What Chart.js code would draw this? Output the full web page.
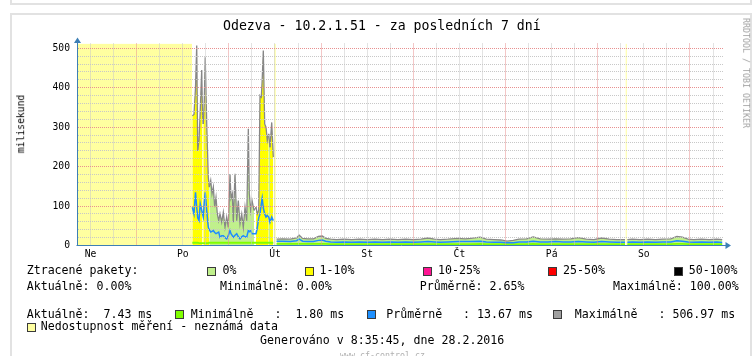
<!DOCTYPE html>
<html><head><meta charset="utf-8">
<script src="https://cdn.jsdelivr.net/npm/chart.js@4.4.1/dist/chart.umd.min.js"></script>
<style>
html,body{margin:0;padding:0;background:#fff;width:756px;height:356px;overflow:hidden;}
#wrap{position:relative;width:756px;height:356px;overflow:hidden;}
canvas{position:absolute;left:0;top:0;}
.t{position:absolute;font-family:'DejaVu Sans Mono',monospace;white-space:pre;color:#000;line-height:1;}
.lg{font-size:11.6px;}
.sw{position:absolute;width:7px;height:7px;border:1px solid #3a3a3a;}
.frame{position:absolute;border:2px solid #e2e2e2;}
</style></head><body><div id="wrap">
<div class="frame" style="left:10px;top:-10px;width:738px;height:11px;"></div>
<div class="frame" style="left:10px;top:13px;width:738px;height:400px;"></div>
<canvas id="c" width="756" height="356"></canvas>

<div class="t" style="left:223px;top:18.8px;font-size:13.2px;">Odezva - 10.2.1.51 - za posledních 7 dní</div>
<div class="t" style="left:21px;top:124px;font-size:9.7px;transform:translate(-50%,-50%) rotate(-90deg);">milisekund</div>
<div class="t" style="left:745.5px;top:73px;font-size:8.3px;color:#a0a0a0;transform:translate(-50%,-50%) rotate(90deg);">RRDTOOL / TOBI OETIKER</div>

<div class="t lg" style="left:26.7px;top:265.2px;">Ztracené pakety:</div>
<div class="sw" style="left:207px;top:267px;background:#c0f08c;"></div>
<div class="t lg" style="left:222.5px;top:265.2px;">0%</div>
<div class="sw" style="left:305px;top:267px;background:#ffff00;"></div>
<div class="t lg" style="left:319.5px;top:265.2px;">1-10%</div>
<div class="sw" style="left:423px;top:267px;background:#ff1493;"></div>
<div class="t lg" style="left:438px;top:265.2px;">10-25%</div>
<div class="sw" style="left:548px;top:267px;background:#ff0000;"></div>
<div class="t lg" style="left:563px;top:265.2px;">25-50%</div>
<div class="sw" style="left:674px;top:267px;background:#000000;"></div>
<div class="t lg" style="left:688.7px;top:265.2px;">50-100%</div>

<div class="t lg" style="left:26.7px;top:280.9px;">Aktuálně: 0.00%</div>
<div class="t lg" style="left:220px;top:280.9px;">Minimálně: 0.00%</div>
<div class="t lg" style="left:419.7px;top:280.9px;">Průměrně: 2.65%</div>
<div class="t lg" style="left:613px;top:280.9px;">Maximálně: 100.00%</div>

<div class="t lg" style="left:26.7px;top:308.5px;">Aktuálně:  7.43 ms</div>
<div class="sw" style="left:175px;top:310px;background:#80ff00;"></div>
<div class="t lg" style="left:190.7px;top:308.5px;">Minimálně   :  1.80 ms</div>
<div class="sw" style="left:366.7px;top:310px;background:#1e90ff;"></div>
<div class="t lg" style="left:386.3px;top:308.5px;">Průměrně   : 13.67 ms</div>
<div class="sw" style="left:553px;top:310px;background:#a0a0a0;"></div>
<div class="t lg" style="left:574.7px;top:308.5px;">Maximálně   : 506.97 ms</div>

<div class="sw" style="left:26.7px;top:323px;background:#ffffa0;"></div>
<div class="t lg" style="left:40.7px;top:321.2px;">Nedostupnost měření - neznámá data</div>
<div class="t lg" style="left:260px;top:335.2px;">Generováno v 8:35:45, dne 28.2.2016</div>
<div class="t" style="left:340px;top:351px;font-size:8.3px;color:#b0b0b0;">www.cf-control.cz</div>
</div>
<script>
// ---- axis definition (x = hours since Sun 21.2.2016 00:00) ----
const X_START = 8.6;
const X_END = 176.6;
const Y_MAX = 512;
const DAY_LABELS = ['Ne', 'Po', 'Út', 'St', 'Čt', 'Pá', 'So'];
const DAY_LABEL_HOURS = [12, 36, 60, 84, 108, 132, 156];

// ---- unknown-data spans (hours) ----
const UNKNOWN_SPANS = [[8.6, 38.42], [59.78, 60.22], [151.22, 151.58]];

// ---- burst period (Mon afternoon – Tue midnight) ----
const BURST_T = [38.48, 38.92, 39.31, 39.63, 39.89, 40.22, 40.54, 40.93, 41.14, 41.34,
  41.60, 41.84, 42.23, 42.64, 42.90, 43.27, 43.61, 43.95, 44.31, 44.65,
  44.99, 45.35, 45.69, 46.13, 46.55, 46.99, 47.43, 47.85, 48.29, 48.55,
  48.89, 49.15, 49.59, 50.04, 50.45, 50.90, 51.34, 51.75, 52.20, 52.64,
  53.06, 53.32, 53.68, 54.02, 54.54, 55.06, 55.40, 55.76, 56.10, 56.44,
  56.67, 56.96, 57.32, 57.66, 58.00, 58.37, 58.70, 59.15, 59.56];
const BURST_MAX = [329, 332, 400, 506.97, 240, 266, 340, 445, 330, 308,
  367, 477, 308, 173, 148, 165, 131, 148, 97, 122,
  80, 63, 80, 59, 84, 46, 72, 46, 181, 120,
  131, 59, 182, 63, 114, 55, 80, 46, 97, 63,
  296, 131, 89, 114, 89, 97, 80, 89, 380, 376,
  420, 494, 308, 300, 266, 283, 249, 312, 224];
const BURST_AVG = [97, 80, 135, 97, 70, 63, 106, 89, 80, 72,
  110, 135, 89, 46, 40, 34, 36, 38, 33, 30,
  32, 34, 21, 25, 25, 20, 17, 25, 38, 30,
  25, 21, 26, 30, 22, 17, 22, 25, 22, 21,
  38, 35, 38, 30, 30, 30, 45, 70, 80, 106,
  120, 95, 80, 72, 76, 72, 59, 72, 63];
const BURST_MIN = [7, 7, 7, 7, 7, 6, 6, 6, 6, 6,
  6, 6, 6, 6, 7, 7, 7, 7, 7, 7,
  7, 7, 7, 7, 7, 7, 7, 7, 7, 7,
  7, 7, 7, 7, 7, 7, 7, 7, 7, 7,
  7, 7, 7, 7, 7, 7, 7, 7, 7, 7,
  7, 7, 7, 7, 7, 7, 7, 7, 7];
// loss class: 0 = 0 %, 1 = 1-10 %, -1 = no fill
const BURST_LOSS = [1, 1, 1, 1, 1, 1, 1, 1, -1, 1,
  1, 1, 1, 1, 0, 0, 0, 0, 0, 0,
  0, 0, 0, 0, 0, 0, 0, 0, 0, 0,
  0, 0, 0, 0, 0, 0, 0, 0, 0, 0,
  0, 0, 0, 0, -1, 1, 1, 1, 1, 1,
  1, 1, 1, 1, 1, 0, 1, 1, 1];

// ---- calm period (Tue – Sun) ----
const CALM_T = [60.4, 62, 64, 65.6, 66.3, 67.2, 68.5, 70, 71.3, 72.3,
  73.2, 74.5, 76, 78, 80, 82, 84, 86, 88, 90,
  92, 94, 96, 98, 99.8, 101.5, 103, 105, 107.6, 109.5,
  111, 113.4, 115, 117, 118.8, 120.4, 122, 123.5, 125.5, 127.2,
  129, 131, 133, 135, 137, 138.9, 141, 143, 145, 147,
  149, 151.1, 151.7, 153, 155, 157, 159, 161, 163, 164.6,
  166, 167.5, 169, 171, 173, 175, 176.4];
const CALM_MAX = [16, 17, 16, 19, 26, 18, 17, 17, 23, 24,
  18, 16, 15, 16, 15, 16, 15, 16, 15, 16,
  15, 16, 15, 16, 19, 16, 15, 16, 18, 17,
  18, 21, 16, 15, 14, 11, 13, 16, 17, 22,
  17, 16, 17, 16, 17, 20, 16, 15, 19, 16,
  15, 15, 15, 16, 15, 16, 15, 16, 17, 23,
  21, 16, 15, 16, 15, 16, 15];
const CALM_AVG = [11, 11, 10, 12, 16, 11, 10, 10, 13, 14,
  11, 9, 8, 9, 8, 9, 8, 9, 8, 9,
  8, 9, 8, 9, 10, 9, 8, 9, 10, 10,
  10, 11, 9, 8, 8, 7, 7, 9, 9, 11,
  9, 9, 10, 9, 9, 10, 9, 8, 10, 9,
  8, 8, 8, 9, 8, 9, 8, 9, 9, 12,
  11, 9, 8, 9, 8, 9, 7.43];
const CALM_MIN = [4, 4, 4, 4, 4, 4, 4, 4, 4, 4,
  4, 3.5, 3.5, 3.5, 3.5, 3.5, 3.5, 3.5, 3.5, 3.5,
  3.5, 3.5, 3.5, 3.5, 3.5, 3.5, 3.5, 3.5, 3.5, 3.5,
  3.5, 4, 3.5, 3.5, 3.5, 3.5, 3.5, 3.5, 3.5, 4,
  3.5, 3.5, 3.5, 3.5, 3.5, 3.5, 3.5, 3.5, 3.5, 3.5,
  3.5, 3.5, 3.5, 3.5, 3.5, 3.5, 3.5, 3.5, 3.5, 4,
  4, 3.5, 3.5, 3.5, 3.5, 3.5, 3.5];
// times where the series has no data (line break)
const GAP_T = [60.0, 151.4];

// ---- colours ----
const C_UNKNOWN = '#ffffa0';
const C_LOSS = { '0': '#c0f08c', '1': '#ffff00', '-1': 'rgba(0,0,0,0)' };
const C_MAXLINE = '#878787';
const C_AVG = '#1e8cff';
const C_MIN = '#80ff00';
const C_GRID_MINOR = '#c8c8c8';
const C_GRID_MAJOR = '#e89090';
const C_AXIS = '#3d7fb5';

// ---- build point lists ----
const rows = [];
BURST_T.forEach((t, i) => rows.push({ t, mx: BURST_MAX[i], av: BURST_AVG[i], mn: BURST_MIN[i], loss: BURST_LOSS[i] }));
CALM_T.forEach((t, i) => rows.push({ t, mx: CALM_MAX[i], av: CALM_AVG[i], mn: CALM_MIN[i], loss: 0 }));
GAP_T.forEach(t => rows.push({ t, mx: null, av: null, mn: null, loss: -1 }));
rows.sort((a, b) => a.t - b.t);
const maxPts = rows.map(r => ({ x: r.t, y: r.mx }));
const avgPts = rows.map(r => ({ x: r.t, y: r.av }));
const minPts = rows.map(r => ({ x: r.t, y: r.mn }));
const lossPts = rows.map(r => r.loss);

const unknownPts = [];
UNKNOWN_SPANS.forEach(([a, b], i) => {
  if (i > 0) unknownPts.push({ x: a - 0.01, y: null });
  unknownPts.push({ x: a, y: Y_MAX }, { x: b, y: Y_MAX });
});

const xTicks = [];
for (let v = 12; v < X_END; v += 6) xTicks.push(v);
const yTicks = [];
for (let v = 0; v <= 500; v += 20) yTicks.push(v);

const axisArrows = {
  id: 'axisArrows',
  afterDraw(chart) {
    const { ctx, chartArea: a } = chart;
    const x0 = a.left, y0 = a.bottom;
    ctx.save();
    ctx.strokeStyle = C_AXIS; ctx.fillStyle = C_AXIS; ctx.lineWidth = 1;
    ctx.beginPath();
    ctx.moveTo(x0, y0); ctx.lineTo(x0, a.top - 1);
    ctx.moveTo(x0 - 1, y0); ctx.lineTo(a.right + 3, y0);
    ctx.stroke();
    ctx.beginPath();
    ctx.moveTo(x0, a.top - 6); ctx.lineTo(x0 - 3.5, a.top - 0.5); ctx.lineTo(x0 + 3.5, a.top - 0.5); ctx.closePath();
    ctx.fill();
    ctx.beginPath();
    ctx.moveTo(a.right + 8, y0); ctx.lineTo(a.right + 2.5, y0 - 3.5); ctx.lineTo(a.right + 2.5, y0 + 3.5); ctx.closePath();
    ctx.fill();
    ctx.restore();
  }
};

const tickFont = { family: 'DejaVu Sans Mono', size: 9.7 };

new Chart(document.getElementById('c'), {
  type: 'line',
  data: {
    datasets: [
      { label: 'unknown', data: unknownPts, borderColor: 'rgba(0,0,0,0)', borderWidth: 0,
        backgroundColor: C_UNKNOWN, fill: 'origin', pointRadius: 0, order: 4 },
      { label: 'max', data: maxPts, borderColor: C_MAXLINE, borderWidth: 1.3,
        backgroundColor: C_LOSS['0'], fill: 'origin', pointRadius: 0, order: 3,
        segment: { backgroundColor: c => C_LOSS[String(lossPts[c.p0DataIndex])] } },
      { label: 'min', data: minPts, borderColor: C_MIN, borderWidth: 1.8, fill: false, pointRadius: 0, order: 2 },
      { label: 'avg', data: avgPts, borderColor: C_AVG, borderWidth: 1.5, fill: false, pointRadius: 0, order: 1 }
    ]
  },
  options: {
    responsive: false, maintainAspectRatio: false, animation: false, devicePixelRatio: 1,
    layout: { padding: { left: 0, top: 43.5, right: 33, bottom: 90.5 } },
    plugins: { legend: { display: false }, tooltip: { enabled: false }, title: { display: false } },
    elements: { line: { tension: 0 }, point: { radius: 0 } },
    scales: {
      x: {
        type: 'linear', min: X_START, max: X_END,
        afterBuildTicks: s => { s.ticks = xTicks.map(v => ({ value: v })); },
        afterFit: s => { s.height = 20; },
        grid: { z: 1, color: c => (c.tick && c.tick.value % 24 === 0) ? C_GRID_MAJOR : C_GRID_MINOR, lineWidth: 1, drawTicks: false },
        border: { display: false, dash: [1, 1] },
        ticks: { autoSkip: false, maxRotation: 0, minRotation: 0, padding: 3, color: '#000', font: tickFont,
          callback: v => { const i = DAY_LABEL_HOURS.indexOf(v); return i >= 0 ? DAY_LABELS[i] : ''; } }
      },
      y: {
        type: 'linear', min: 0, max: Y_MAX,
        afterBuildTicks: s => { s.ticks = yTicks.map(v => ({ value: v })); },
        afterFit: s => { s.width = 77.5; },
        grid: { z: 1, color: c => (c.tick && c.tick.value % 100 === 0) ? C_GRID_MAJOR : C_GRID_MINOR, lineWidth: 1, drawTicks: false },
        border: { display: false, dash: [1, 1] },
        ticks: { autoSkip: false, padding: 7.5, color: '#000', font: tickFont,
          callback: v => (v % 100 === 0 ? String(v) : '') }
      }
    }
  },
  plugins: [axisArrows]
});
</script>
</body></html>
